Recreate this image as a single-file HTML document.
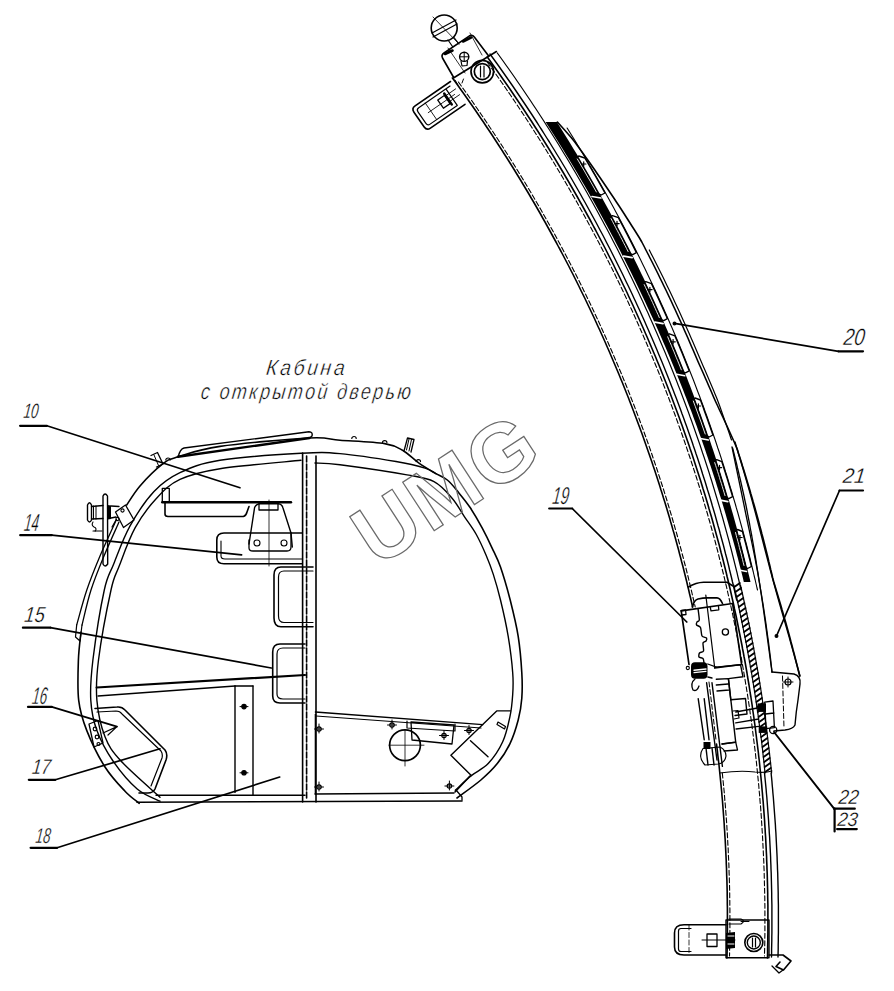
<!DOCTYPE html>
<html><head><meta charset="utf-8"><style>
html,body{margin:0;padding:0;background:#fff;width:894px;height:991px;overflow:hidden}
svg{display:block}
path,circle{fill:none;stroke:#000;stroke-linecap:round;stroke-linejoin:round}
text{font-family:"Liberation Sans",sans-serif;font-style:italic;fill:#000;stroke:#fff;stroke-width:0.5}
.wm{font-style:normal;font-weight:bold;fill:none;stroke:#6a6a6a;stroke-width:1.25}
</style></head><body>
<svg width="894" height="991" viewBox="0 0 894 991">
<path d="M452.4,78 455.4,82 458.3,86 461.1,90 464,94 466.8,98 469.6,102 472.4,106 475.2,110 477.9,114 480.6,118 483.4,122 486,126 488.7,130 491.4,134 494,138 496.6,142 499.2,146 501.8,150 504.3,154 506.9,158 509.4,162 511.9,166 514.4,170 516.8,174 519.3,178 521.7,182 524.1,186 526.5,190 528.9,194 531.2,198 533.6,202 535.9,206 538.2,210 540.5,214 542.7,218 545,222 547.2,226 549.4,230 551.6,234 553.8,238 556,242 558.1,246 560.3,250 562.4,254 564.5,258 566.6,262 568.7,266 570.7,270 572.8,274 574.8,278 576.8,282 578.8,286 580.7,290 582.7,294 584.7,298 586.6,302 588.5,306 590.4,310 592.3,314 594.2,318 596,322 597.8,326 599.7,330 601.5,334 603.3,338 605.1,342 606.8,346 608.6,350 610.3,354 612,358 613.7,362 615.4,366 617.1,370 618.8,374 620.4,378 622.1,382 623.7,386 625.3,390 626.9,394 628.5,398 630,402 631.6,406 633.1,410 634.6,414 636.1,418 637.6,422 639.1,426 640.6,430 642.1,434 643.5,438 644.9,442 646.3,446 647.7,450 649.1,454 650.5,458 651.9,462 653.2,466 654.6,470 655.9,474 657.2,478 658.5,482 659.8,486 661,490 662.3,494 663.5,498 664.8,502 666,506 667.2,510 668.4,514 669.6,518 670.7,522 671.9,526 673,530 674.2,534 675.3,538 676.4,542 677.5,546 678.6,550 679.6,554 680.7,558 681.7,562 682.8,566 683.8,570 684.8,574 685.8,578 686.8,582 687.7,586 688.7,590 689.6,594 690.6,598 691.5,602 692.4,606 692.6,607" stroke-width="1.6"/>
<path d="M716.5,744 717,748 717.5,752 717.9,756 718.4,760 718.9,764 719.3,768 719.7,772 720.1,776 720.5,780 720.9,784 721.3,788 721.7,792 722,796 722.4,800 722.7,804 723,808 723.3,812 723.6,816 723.9,820 724.2,824 724.4,828 724.7,832 724.9,836 725.2,840 725.4,844 725.6,848 725.8,852 726,856 726.2,860 726.3,864 726.5,868 726.6,872 726.7,876 726.9,880 727,884 727.1,888 727.2,892 727.2,896 727.3,900 727.3,904 727.4,908 727.4,912 727.4,916 727.4,920 727.4,924 727.4,928 727.4,932 727.3,936 727.3,940 727.2,944 727.2,948 727.1,952 727,956 726.9,958" stroke-width="1.6"/>
<path d="M458.4,82 461.3,86 464.2,90 467,94 469.9,98 472.7,102 475.4,106 478.2,110 480.9,114 483.7,118 486.4,122 489,126 491.7,130 494.4,134 497,138 499.6,142 502.2,146 504.7,150 507.3,154 509.8,158 512.3,162 514.8,166 517.3,170 519.7,174 522.2,178 524.6,182 527,186 529.4,190 531.8,194 534.1,198 536.4,202 538.8,206 541.1,210 543.3,214 545.6,218 547.8,222 550.1,226 552.3,230 554.5,234 556.7,238 558.8,242 561,246 563.1,250 565.2,254 567.3,258 569.4,262 571.5,266 573.5,270 575.6,274 577.6,278 579.6,282 581.6,286 583.5,290 585.5,294 587.4,298 589.4,302 591.3,306 593.2,310 595,314 596.9,318 598.8,322 600.6,326 602.4,330 604.2,334 606,338 607.8,342 609.5,346 611.3,350 613,354 614.7,358 616.4,362 618.1,366 619.8,370 621.5,374 623.1,378 624.8,382 626.4,386 628,390 629.6,394 631.1,398 632.7,402 634.3,406 635.8,410 637.3,414 638.8,418 640.3,422 641.8,426 643.3,430 644.7,434 646.2,438 647.6,442 649,446 650.4,450 651.8,454 653.1,458 654.5,462 655.9,466 657.2,470 658.5,474 659.8,478 661.1,482 662.4,486 663.7,490 664.9,494 666.2,498 667.4,502 668.6,506 669.8,510 671,514 672.2,518 673.3,522 674.5,526 675.6,530 676.8,534 677.9,538 679,542 680.1,546 681.2,550 682.2,554 683.3,558 684.3,562 685.4,566 686.4,570 687.4,574 688.4,578 689.3,582 690.3,586 691.3,590 692.2,594 693.1,598 694.1,602 695,606 695.2,607" stroke-width="1.1" stroke-dasharray="5 2.5"/>
<path d="M722.3,773 722.7,777 723.1,781 723.5,785 723.9,789 724.3,793 724.6,797 724.9,801 725.3,805 725.6,809 725.9,813 726.2,817 726.5,821 726.8,825 727,829 727.3,833 727.5,837 727.7,841 727.9,845 728.2,849 728.3,853 728.5,857 728.7,861 728.9,865 729,869 729.1,873 729.3,877 729.4,881 729.5,885 729.6,889 729.7,893 729.7,897 729.8,901 729.8,905 729.9,909 729.9,913 729.9,917 729.9,921 729.9,925 729.9,929 729.9,933 729.8,937 729.8,941 729.7,945 729.6,949 729.6,953 729.5,956" stroke-width="1.1" stroke-dasharray="5 2.5"/>
<path d="M487.2,62 490.1,66 492.9,70 495.8,74 498.6,78 501.4,82 504.2,86 506.9,90 509.7,94 512.4,98 515.1,102 517.8,106 520.4,110 523.1,114 525.7,118 528.3,122 530.9,126 533.5,130 536,134 538.6,138 541.1,142 543.6,146 546.1,150 548.5,154 551,158 553.4,162 555.8,166 558.2,170 560.6,174 563,178 565.3,182 567.6,186 569.9,190 572.2,194 574.5,198 576.8,202 579,206 581.2,210 583.4,214 585.6,218 587.8,222 590,226 592.1,230 594.2,234 596.4,238 598.5,242 600.5,246 602.6,250 604.6,254 606.7,258 608.7,262 610.7,266 612.7,270 614.7,274 616.6,278 618.6,282 620.5,286 622.4,290 624.3,294 626.2,298 628.1,302 629.9,306 631.8,310 633.6,314 635.4,318 637.2,322 639,326 640.7,330 642.5,334 644.2,338 646,342 647.7,346 649.4,350 651.1,354 652.7,358 654.4,362 656,366 657.7,370 659.3,374 660.9,378 662.5,382 664,386 665.6,390 667.1,394 668.7,398 670.2,402 671.7,406 673.2,410 674.7,414 676.1,418 677.6,422 679,426 680.5,430 681.9,434 683.3,438 684.7,442 686,446 687.4,450 688.7,454 690.1,458 691.4,462 692.7,466 694,470 695.3,474 696.6,478 697.8,482 699.1,486 700.3,490 701.5,494 702.8,498 703.9,502 705.1,506 706.3,510 707.5,514 708.6,518 709.8,522 710.9,526 712,530 713.1,534 714.2,538 715.3,542 716.3,546 717.4,550 718.4,554 719.4,558 720.4,562 721.4,566 722.4,570 723.4,574 724.4,578 725.3,582 726.3,586 727.2,590 728.1,594 729,598 729.9,602 730.8,606 731.7,610 732.6,614 733.4,618 734.2,622 735.1,626 735.9,630 736.7,634 737.5,638 738.3,642 739,646 739.8,650 740.5,654 741.3,658 742,662 742.7,666 743.4,670 744.1,674 744.8,678 745.4,682 746.1,686 746.7,690 747.4,694 748,698 748.6,702 749.2,706 749.8,710 750.3,714 750.9,718 751.5,722 752,726 752.5,730 753,734 753.5,738 754,742 754.5,746 755,750 755.5,754 755.9,758 756.4,762 756.8,766 757.2,770 757.6,774 758,778 758.4,782 758.8,786 759.1,790 759.5,794 759.8,798 760.1,802 760.5,806 760.8,810 761.1,814 761.4,818 761.6,822 761.9,826 762.1,830 762.4,834 762.6,838 762.8,842 763,846 763.2,850 763.4,854 763.6,858 763.8,862 763.9,866 764.1,870 764.2,874 764.3,878 764.4,882 764.5,886 764.6,890 764.7,894 764.8,898 764.8,902 764.9,906 764.9,910 764.9,914 764.9,918 764.9,922 764.9,926 764.9,930 764.9,934 764.8,938 764.8,942 764.7,946 764.6,950 764.5,954 764.5,956" stroke-width="1.1" stroke-dasharray="5 2.5"/>
<path d="M487.3,57 490.2,61 493,65 495.9,69 498.7,73 501.5,77 504.3,81 507.1,85 509.9,89 512.6,93 515.3,97 518,101 520.7,105 523.4,109 526,113 528.6,117 531.3,121 533.8,125 536.4,129 539,133 541.5,137 544,141 546.5,145 549,149 551.4,153 553.9,157 556.3,161 558.7,165 561.1,169 563.5,173 565.8,177 568.2,181 570.5,185 572.8,189 575.1,193 577.4,197 579.6,201 581.9,205 584.1,209 586.3,213 588.5,217 590.7,221 592.8,225 595,229 597.1,233 599.2,237 601.3,241 603.4,245 605.5,249 607.5,253 609.5,257 611.6,261 613.6,265 615.5,269 617.5,273 619.5,277 621.4,281 623.3,285 625.3,289 627.2,293 629,297 630.9,301 632.8,305 634.6,309 636.4,313 638.2,317 640,321 641.8,325 643.6,329 645.3,333 647.1,337 648.8,341 650.5,345 652.2,349 653.9,353 655.6,357 657.2,361 658.9,365 660.5,369 662.1,373 663.7,377 665.3,381 666.9,385 668.4,389 670,393 671.5,397 673,401 674.5,405 676,409 677.5,413 679,417 680.4,421 681.9,425 683.3,429 684.7,433 686.1,437 687.5,441 688.9,445 690.2,449 691.6,453 692.9,457 694.2,461 695.5,465 696.8,469 698.1,473 699.4,477 700.7,481 701.9,485 703.1,489 704.4,493 705.6,497 706.8,501 708,505 709.1,509 710.3,513 711.5,517 712.6,521 713.7,525 714.8,529 715.9,533 717,537 718.1,541 719.2,545 720.2,549 721.2,553 722.3,557 723.3,561 724.3,565 725.3,569 726.3,573 727.2,577 728.2,581 729.1,585 730.1,589 731,593 731.9,597 732.8,601 733.7,605 734.5,609 735.4,613 736.3,617 737.1,621 737.9,625 738.7,629 739.5,633 740.3,637 741.1,641 741.9,645 742.6,649 743.4,653 744.1,657 744.9,661 745.6,665 746.3,669 747,673 747.6,677 748.3,681 749,685 749.6,689 750.2,693 750.9,697 751.5,701 752.1,705 752.6,709 753.2,713 753.8,717 754.3,721 754.9,725 755.4,729 755.9,733 756.4,737 756.9,741 757.4,745 757.9,749 758.4,753 758.8,757 759.3,761 759.7,765 760.1,769 760.5,773 760.9,777 761.3,781 761.7,785 762,789 762.4,793 762.7,797 763.1,801 763.4,805 763.7,809 764,813 764.3,817 764.6,821 764.8,825 765.1,829 765.3,833 765.6,837 765.8,841 766,845 766.2,849 766.4,853 766.6,857 766.7,861 766.9,865 767,869 767.2,873 767.3,877 767.4,881 767.5,885 767.6,889 767.7,893 767.7,897 767.8,901 767.9,905 767.9,909 767.9,913 767.9,917 767.9,921 767.9,925 767.9,929 767.9,933 767.8,937 767.8,941 767.7,945 767.6,949 767.6,953 767.5,957 767.4,958" stroke-width="1.6"/>
<path d="M490,54 492.9,58 495.8,62 498.7,66 501.5,70 504.3,74 507.1,78 509.9,82 512.7,86 515.4,90 518.1,94 520.8,98 523.5,102 526.2,106 528.8,110 531.5,114 534.1,118 536.7,122 539.2,126 541.8,130 544.3,134 546.8,138 549.4,142 551.8,146 554.3,150 556.7,154 559.2,158 561.6,162 564,166 566.4,170 568.7,174 571.1,178 573.4,182 575.7,186 578,190 580.3,194 582.5,198 584.8,202 587,206 589.2,210 591.4,214 593.6,218 595.8,222 597.9,226 600,230 602.2,234 604.3,238 606.3,242 608.4,246 610.5,250 612.5,254 614.5,258 616.5,262 618.5,266 620.5,270 622.5,274 624.4,278 626.3,282 628.3,286 630.2,290 632.1,294 633.9,298 635.8,302 637.6,306 639.5,310 641.3,314 643.1,318 644.9,322 646.6,326 648.4,330 650.1,334 651.9,338 653.6,342 655.3,346 657,350 658.6,354 660.3,358 662,362 663.6,366 665.2,370 666.8,374 668.4,378 670,382 671.5,386 673.1,390 674.6,394 676.2,398 677.7,402 679.2,406 680.7,410 682.1,414 683.6,418 685,422 686.5,426 687.9,430 689.3,434 690.7,438 692.1,442 693.4,446 694.8,450 696.1,454 697.5,458 698.8,462 700.1,466 701.4,470 702.6,474 703.9,478 705.2,482 706.4,486 707.6,490 708.9,494 710.1,498 711.3,502 712.4,506 713.6,510 714.8,514 715.9,518 717,522 718.1,526 719.3,530 720.3,534 721.4,538 722.5,542 723.6,546 724.6,550 725.6,554 726.7,558 727.7,562 728.7,566 729.6,570 730.6,574 731.6,578 732.5,582 733.5,586 734.4,590 735.3,594 736.2,598 736.7,600" stroke-width="1.4"/>
<path d="M764.5,773 764.9,777 765.3,781 765.7,785 766.1,789 766.4,793 766.8,797 767.1,801 767.4,805 767.7,809 768,813 768.3,817 768.6,821 768.8,825 769.1,829 769.3,833 769.6,837 769.8,841 770,845 770.2,849 770.4,853 770.6,857 770.7,861 770.9,865 771,869 771.2,873 771.3,877 771.4,881 771.5,885 771.6,889 771.7,893 771.7,897 771.8,901 771.9,905 771.9,909 771.9,913 771.9,917 771.9,921 771.9,925 771.9,929 771.9,933 771.8,937 771.8,941 771.7,945 771.6,949 771.6,953 771.5,957" stroke-width="1.4"/>
<path d="M497.3,53 500.2,57 503.1,61 505.9,65 508.8,69 511.6,73 514.4,77 517.1,81 519.9,85 522.6,89 525.3,93 528,97 530.7,101 533.3,105 536,109 538.6,113 541.2,117 543.8,121 546.3,125 548.9,129 551.4,133 553.9,137 556.4,141 558.9,145 561.3,149 563.7,153 566.2,157 568.6,161 571,165 573.3,169 575.7,173 578,177 580.3,181 582.6,185 584.9,189 587.2,193 589.4,197 591.7,201 593.9,205 596.1,209 598.3,213 600.4,217 602.6,221 604.7,225 606.9,229 609,233 611.1,237 613.1,241 615.2,245 617.3,249 619.3,253 621.3,257 623.3,261 625.3,265 627.3,269 629.2,273 631.2,277 633.1,281 635,285 636.9,289 638.8,293 640.6,297 642.5,301 644.3,305 646.1,309 648,313 649.7,317 651.5,321 653.3,325 655,329 656.8,333 658.5,337 660.2,341 661.9,345 663.6,349 665.3,353 666.9,357 668.6,361 670.2,365 671.8,369 673.4,373 675,377 676.6,381 678.1,385 679.7,389 681.2,393 682.7,397 684.2,401 685.7,405 687.2,409 688.7,413 690.1,417 691.6,421 693,425 694.4,429 695.8,433 697.2,437 698.6,441 700,445 701.3,449 702.6,453 704,457 705.3,461 706.6,465 707.9,469 709.2,473 710.4,477 711.7,481 712.9,485 714.1,489 715.3,493 716.5,497 717.7,501 718.9,505 720.1,509 721.2,513 722.4,517 723.5,521 724.6,525 725.7,529 726.8,533 727.9,537 729,541 730,545 731.1,549 732.1,553 733.1,557 734.1,561 735.1,565 736.1,569 737.1,573 738,577 739,581 739.9,585 740.8,589 741.1,590" stroke-width="1.2"/>
<path d="M545.6,122 548.2,126 550.7,130 553.3,134 555.8,138 558.3,142 560.8,146 563.3,150 565.7,154 568.2,158 570.6,162 573,166 575.4,170 577.8,174 580.1,178 582.4,182 584.8,186 587.1,190 589.4,194 591.6,198 593.9,202 596.1,206 598.3,210 600.5,214 602.7,218 604.9,222 607.1,226 609.2,230 611.3,234 613.5,238 615.5,242 617.6,246 619.7,250 621.7,254 623.8,258 625.8,262 627.8,266 629.8,270 631.8,274 633.7,278 635.7,282 637.6,286 639.5,290 641.4,294 643.3,298 645.2,302 647,306 648.9,310 650.7,314 652.6,318 654.4,322 656.2,326 658,330 659.7,334 661.5,338 663.2,342 665,346 666.7,350 668.4,354 670.1,358 671.7,362 673.4,366 675,370 676.7,374 678.3,378 679.9,382 681.5,386 683.1,390 684.6,394 686.2,398 687.7,402 689.2,406 690.8,410 692.3,414 693.7,418 695.2,422 696.7,426 698.1,430 699.5,434 701,438 702.4,442 703.8,446 705.2,450 706.5,454 707.9,458 709.2,462 710.6,466 711.9,470 713.2,474 714.5,478 715.8,482 717,486 718.3,490 719.5,494 720.8,498 722,502 723.2,506 724.4,510 725.6,514 726.7,518 727.9,522 729,526 730.2,530 731.3,534 732.4,538 733.5,542 734.6,546 735.7,550 736.7,554 737.8,558 738.8,562 739.8,566 740.9,570 741.9,574 742.9,578 743.8,582 750.5,582 749.6,578 748.6,574 747.6,570 746.7,566 745.7,562 744.7,558 743.7,554 742.6,550 741.6,546 740.6,542 739.5,538 738.4,534 737.3,530 736.2,526 735.1,522 734,518 732.9,514 731.7,510 730.6,506 729.4,502 728.2,498 727,494 725.8,490 724.6,486 723.4,482 722.1,478 720.9,474 719.6,470 718.3,466 717,462 715.7,458 714.4,454 713.1,450 711.7,446 710.4,442 709,438 707.6,434 706.3,430 704.8,426 703.4,422 702,418 700.6,414 699.1,410 697.6,406 696.1,402 694.6,398 693.1,394 691.6,390 690.1,386 688.5,382 687,378 685.4,374 683.8,370 682.2,366 680.6,362 679,358 677.3,354 675.7,350 674,346 672.3,342 670.6,338 668.9,334 667.2,330 665.4,326 663.7,322 661.9,318 660.1,314 658.3,310 656.5,306 654.7,302 652.9,298 651,294 649.2,290 647.3,286 645.4,282 643.5,278 641.5,274 639.6,270 637.7,266 635.7,262 633.7,258 631.7,254 629.7,250 627.7,246 625.6,242 623.6,238 621.5,234 619.4,230 617.3,226 615.2,222 613,218 610.9,214 608.7,210 606.5,206 604.3,202 602.1,198 599.9,194 597.6,190 595.4,186 593.1,182 590.8,178 588.5,174 586.1,170 583.8,166 581.4,162 579.1,158 576.7,154 574.2,150 571.8,146 569.4,142 566.9,138 564.4,134 561.9,130 559.4,126 556.9,122Z" style="fill:#000;stroke:none"/>
<path d="M567.1,128 569.6,132 572.1,136 574.6,140 577,144 579.4,148 581.8,152 584.2,156 586.6,160 588.9,164 591.3,168 593.6,172 595.9,176 598.2,180 600.5,184 602.7,188 605,192 607.2,196 609.4,200 611.6,204 613.8,208 615.9,212 618.1,216 620.2,220 622.3,224 624.4,228 626.5,232 628.6,236 630.6,240 632.7,244 634.7,248 636.7,252 638.7,256 640.7,260 642.6,264 644.6,268 646.5,272 648.4,276 650.3,280 652.2,284 654.1,288 656,292 657.8,296 659.6,300 661.4,304 663.3,308 665,312 666.8,316 668.6,320 670.3,324 672.1,328 673.8,332 675.5,336 677.2,340 678.9,344 680.5,348 682.2,352 683.8,356 685.4,360 687,364 688.6,368 690.2,372 691.8,376 693.4,380 694.9,384 696.4,388 697.9,392 699.5,396 700.9,400 702.4,404 703.9,408 705.3,412 706.8,416 708.2,420 709.6,424 711,428 712.4,432 713.8,436 715.2,440 716.5,444 717.8,448 719.2,452 720.5,456 721.8,460 723.1,464 724.4,468 725.6,472 726.9,476 728.1,480 729.3,484 730.5,488 731.8,492 732.9,496 734.1,500 735.3,504 736.4,508 737.6,512 738.7,516 739.8,520 740.9,524 742,528 743.1,532 744.2,536 745.2,540 746.3,544 747.3,548 748.3,552 749.4,556 750.4,560 751.3,564 752.3,568 753.3,572 754.2,576 755.2,580 756.1,584 757,588 757.5,590" stroke-width="1.1"/>
<path d="M557.4,122 561,126 564.6,130 568.1,134 571.6,138 574.8,142 577.7,146 580.6,150 583.5,154 586.3,158 589.2,162 592,166 594.8,170 597.5,174 600.3,178 603,182 605.7,186 608.4,190 611.1,194 613.8,198 616.4,202 619.1,206 621.7,210 624.3,214 626.8,218 629.4,222 631.9,226 634.5,230 637,234 639.5,238 641.8,242 643.9,246 645.9,250 648,254 650,258 652.1,262 654.1,266 656.1,270 658.1,274 660,278 662,282 663.9,286 665.9,290 667.8,294 669.7,298 671.6,302 673.4,306 675.3,310 677.1,314 678.9,318 680.8,322 682.6,326 684.3,330 686.1,334 687.9,338 689.6,342 691.3,346 693.1,350 694.8,354 696.5,358 698.2,362 700,366 701.8,370 703.6,374 705.3,378 707.1,382 708.8,386 710.6,390 712.3,394 714,398 715.8,402 717.7,406 719.5,410 721.4,414 723.3,418 725.1,422 727,426 728.8,430 730.6,434 732.4,438 734.2,442 735.9,446 737.5,450 738.7,454 740,458 741.3,462 742.5,466 743.8,470 745,474 746.2,478 747.4,482 748.6,486 749.8,490 750.9,494 752.1,498 753.2,502 754.4,506 755.5,510 756.6,514 757.7,518 758.8,522 759.8,526 760.9,530 761.9,534 763,538 764,542 765,546 766,550 767,554 768,558 768.9,562 769.9,566 770.8,570 771.8,574 772.7,578 773.8,582 775,586 776.2,590 777.4,594 778.6,598 779.8,602 781,606 782.1,610 783.3,614 784.4,618 785.6,622 786.7,626 787.8,630 788.9,634 790,638 791,642 792.1,646 793.1,650 794.2,654 795.2,658 796.2,662 797.2,666 798.2,670 799.2,674 799.7,676" stroke-width="1.6"/>
<path d="M649.3,250 651.3,254 653.4,258 655.4,262 657.4,266 659.4,270 661.4,274 663.4,278 665.3,282 667.2,286 669.2,290 671.1,294 673,298 674.8,302 676.7,306 678.6,310 680.4,314 682.2,318 684,322 685.8,326 687.6,330 689.4,334 691.1,338 692.9,342 694.6,346 696.3,350 698,354 699.7,358 701.4,362 703.1,366 704.9,370 706.6,374 708.3,378 710,382 711.7,386 713.4,390 715,394 716.7,398 718.2,402 719.7,406 721.1,410 722.5,414 723.9,418 725.3,422 726.7,426 728.1,430 729.5,434 730.8,438 731.5,440" stroke-width="1.2"/>
<path d="M732.6,448 733.6,452 734.6,456 735.6,460 736.6,464 737.5,468 738.5,472 739.4,476 740.4,480 741.3,484 742.2,488 743.1,492 744,496 744.8,500 745.7,504 746.5,508 747.3,512 748,516 748.8,520 749.6,524 750.3,528 751,532 751.8,536 752.5,540 753.2,544 753.9,548 754.5,552 755.2,556 755.9,560 756.5,564 757.1,568 757.8,572 758.4,576 759,580 759.7,584 760.3,588 761,592 761.7,596 762.3,600 763,604 763.6,608 764.2,612 764.8,616 765.4,620 766,624 766.5,628 767.1,632 767.6,636 768.2,640 768.7,644 769.2,648 769.7,652 770.2,656 770.7,660 771.1,664 771.6,668 772,672" stroke-width="1.3"/>
<path d="M579.8,158 581.6,161 583.4,164 585.1,167 586.9,170 588.6,173 590.4,176 592.1,179 593.8,182 595.5,185 597.2,188 598.9,191 600,193 604,193 602.9,191 601.2,188 599.5,185 597.8,182 596.1,179 594.4,176 592.7,173 590.9,170 589.2,167 587.4,164 585.7,161 583.9,158Z" style="fill:#fff;stroke:none"/>
<path d="M575.8,157.5 578.7,156 584.8,158 586,160 587.8,163 589.5,166 591.3,169 593,172 594.8,175 596.5,178 598.2,181 599.9,184 601.6,187 603.3,190 603.8,191 605,193 601.2,195 596.6,193.5" stroke-width="1.4"/>
<path d="M577.3,159 579.1,162 580.8,165 582.6,168 584.4,171 586.1,174 587.8,177 589.6,180 591.3,183 593,186 594.7,189 596.4,192" style="fill:none;stroke:#fff;stroke-width:0.9"/>
<path d="M592,196.5 L600.9,198" style="fill:none;stroke:#fff;stroke-width:1.6"/>
<path d="M581.5,164 L585.9,164" stroke-width="1.2"/>
<path d="M583.7,161.8 L583.7,166.2" stroke-width="1.2"/>
<path d="M613.5,217.6 615.1,220.6 616.7,223.6 618.3,226.6 619.8,229.6 621.4,232.6 623,235.6 624.5,238.6 626,241.6 627.6,244.6 629.1,247.6 630.6,250.6 631.6,252.6 635.5,252.6 634.5,250.6 633,247.6 631.5,244.6 630,241.6 628.4,238.6 626.9,235.6 625.3,232.6 623.8,229.6 622.2,226.6 620.6,223.6 619.1,220.6 617.5,217.6Z" style="fill:#fff;stroke:none"/>
<path d="M609.6,217.1 612.5,215.6 618.4,217.6 619.4,219.6 621,222.6 622.6,225.6 624.2,228.6 625.7,231.6 627.3,234.6 628.8,237.6 630.4,240.6 631.9,243.6 633.4,246.6 634.9,249.6 635.4,250.6 636.4,252.6 632.7,254.6 628.3,253.1" stroke-width="1.4"/>
<path d="M611,218.6 612.6,221.6 614.2,224.6 615.7,227.6 617.3,230.6 618.9,233.6 620.4,236.6 622,239.6 623.5,242.6 625.1,245.6 626.6,248.6 628.1,251.6" style="fill:none;stroke:#fff;stroke-width:0.9"/>
<path d="M623.6,256.1 L632.2,257.6" style="fill:none;stroke:#fff;stroke-width:1.6"/>
<path d="M614.8,223.6 L619.2,223.6" stroke-width="1.2"/>
<path d="M617,221.4 L617,225.8" stroke-width="1.2"/>
<path d="M646.7,283.6 648.1,286.6 649.5,289.6 650.9,292.6 652.3,295.6 653.7,298.6 655.1,301.6 656.4,304.6 657.8,307.6 659.2,310.6 660.5,313.6 661.8,316.6 662.7,318.6 666.5,318.6 665.7,316.6 664.3,313.6 663,310.6 661.6,307.6 660.3,304.6 658.9,301.6 657.6,298.6 656.2,295.6 654.8,292.6 653.4,289.6 652,286.6 650.6,283.6Z" style="fill:#fff;stroke:none"/>
<path d="M642.9,283.1 645.8,281.6 651.5,283.6 652.4,285.6 653.8,288.6 655.2,291.6 656.6,294.6 658,297.6 659.4,300.6 660.7,303.6 662.1,306.6 663.4,309.6 664.8,312.6 666.1,315.6 666.5,316.6 667.4,318.6 663.7,320.6 659.4,319.1" stroke-width="1.4"/>
<path d="M644.2,284.6 645.6,287.6 647,290.6 648.4,293.6 649.8,296.6 651.2,299.6 652.6,302.6 653.9,305.6 655.3,308.6 656.6,311.6 658,314.6 659.3,317.6" style="fill:none;stroke:#fff;stroke-width:0.9"/>
<path d="M654.8,322.1 L663.1,323.6" style="fill:none;stroke:#fff;stroke-width:1.6"/>
<path d="M647.7,289.6 L652.1,289.6" stroke-width="1.2"/>
<path d="M649.9,287.4 L649.9,291.8" stroke-width="1.2"/>
<path d="M670.2,335.8 671.5,338.8 672.7,341.8 674,344.8 675.2,347.8 676.5,350.8 677.7,353.8 679,356.8 680.2,359.8 681.4,362.8 682.6,365.8 683.8,368.8 684.6,370.8 688.4,370.8 687.6,368.8 686.4,365.8 685.2,362.8 683.9,359.8 682.7,356.8 681.5,353.8 680.3,350.8 679,347.8 677.8,344.8 676.5,341.8 675.3,338.8 674,335.8Z" style="fill:#fff;stroke:none"/>
<path d="M666.5,335.3 669.4,333.8 674.9,335.8 675.7,337.8 677,340.8 678.2,343.8 679.5,346.8 680.7,349.8 682,352.8 683.2,355.8 684.4,358.8 685.6,361.8 686.8,364.8 688,367.8 688.4,368.8 689.2,370.8 685.4,372.8 681.3,371.3" stroke-width="1.4"/>
<path d="M667.7,336.8 668.9,339.8 670.2,342.8 671.5,345.8 672.7,348.8 674,351.8 675.2,354.8 676.4,357.8 677.7,360.8 678.9,363.8 680.1,366.8 681.3,369.8" style="fill:none;stroke:#fff;stroke-width:0.9"/>
<path d="M676.6,374.3 L684.7,375.8" style="fill:none;stroke:#fff;stroke-width:1.6"/>
<path d="M670.9,341.8 L675.3,341.8" stroke-width="1.2"/>
<path d="M673.1,339.6 L673.1,344" stroke-width="1.2"/>
<path d="M695.8,400 696.9,403 698,406 699.1,409 700.2,412 701.3,415 702.4,418 703.5,421 704.5,424 705.6,427 706.6,430 707.7,433 708.4,435 712.1,435 711.4,433 710.3,430 709.3,427 708.2,424 707.2,421 706.1,418 705,415 704,412 702.9,409 701.8,406 700.7,403 699.6,400Z" style="fill:#fff;stroke:none"/>
<path d="M692.2,399.5 695.1,398 700.4,400 701.2,402 702.3,405 703.4,408 704.4,411 705.5,414 706.6,417 707.7,420 708.7,423 709.8,426 710.8,429 711.9,432 712.2,433 712.9,435 709.1,437 705.2,435.5" stroke-width="1.4"/>
<path d="M693.3,401 694.4,404 695.5,407 696.6,410 697.7,413 698.8,416 699.9,419 701,422 702,425 703.1,428 704.1,431 705.2,434" style="fill:none;stroke:#fff;stroke-width:0.9"/>
<path d="M700.4,438.5 L708.3,440" style="fill:none;stroke:#fff;stroke-width:1.6"/>
<path d="M696.2,406 L700.6,406" stroke-width="1.2"/>
<path d="M698.4,403.8 L698.4,408.2" stroke-width="1.2"/>
<path d="M717.3,461.6 718.2,464.6 719.2,467.6 720.1,470.6 721.1,473.6 722,476.6 723,479.6 723.9,482.6 724.8,485.6 725.7,488.6 726.6,491.6 727.5,494.6 728.1,496.6 731.8,496.6 731.2,494.6 730.3,491.6 729.4,488.6 728.5,485.6 727.5,482.6 726.6,479.6 725.7,476.6 724.8,473.6 723.8,470.6 722.9,467.6 721.9,464.6 720.9,461.6Z" style="fill:#fff;stroke:none"/>
<path d="M713.7,461.1 716.7,459.6 721.8,461.6 722.4,463.6 723.4,466.6 724.3,469.6 725.3,472.6 726.2,475.6 727.2,478.6 728.1,481.6 729,484.6 729.9,487.6 730.8,490.6 731.7,493.6 732,494.6 732.6,496.6 728.8,498.6 724.9,497.1" stroke-width="1.4"/>
<path d="M714.7,462.6 715.7,465.6 716.7,468.6 717.6,471.6 718.6,474.6 719.5,477.6 720.4,480.6 721.4,483.6 722.3,486.6 723.2,489.6 724.1,492.6 725,495.6" style="fill:none;stroke:#fff;stroke-width:0.9"/>
<path d="M720.1,500.1 L727.8,501.6" style="fill:none;stroke:#fff;stroke-width:1.6"/>
<path d="M717.3,467.6 L721.7,467.6" stroke-width="1.2"/>
<path d="M719.5,465.4 L719.5,469.8" stroke-width="1.2"/>
<path d="M738,531.5 738.8,534.5 739.6,537.5 740.4,540.5 741.2,543.5 742,546.5 742.8,549.5 743.5,552.5 744.3,555.5 745,558.5 745.8,561.5 746.5,564.5 747,566.5 750.6,566.5 750.1,564.5 749.4,561.5 748.6,558.5 747.9,555.5 747.1,552.5 746.4,549.5 745.6,546.5 744.8,543.5 744,540.5 743.2,537.5 742.4,534.5 741.6,531.5Z" style="fill:#fff;stroke:none"/>
<path d="M734.6,531 737.5,529.5 742.5,531.5 743,533.5 743.8,536.5 744.6,539.5 745.4,542.5 746.2,545.5 746.9,548.5 747.7,551.5 748.5,554.5 749.2,557.5 750,560.5 750.7,563.5 751,564.5 751.4,566.5 747.6,568.5 743.8,567" stroke-width="1.4"/>
<path d="M735.5,532.5 736.3,535.5 737.1,538.5 737.9,541.5 738.7,544.5 739.4,547.5 740.2,550.5 741,553.5 741.7,556.5 742.5,559.5 743.2,562.5 744,565.5" style="fill:none;stroke:#fff;stroke-width:0.9"/>
<path d="M738.9,570 L746.5,571.5" style="fill:none;stroke:#fff;stroke-width:1.6"/>
<path d="M737.7,537.5 L742.1,537.5" stroke-width="1.2"/>
<path d="M739.9,535.3 L739.9,539.7" stroke-width="1.2"/>
<path d="M453.4,78 L496.4,51.5" stroke-width="1.6"/>
<path d="M453.4,77 L442.5,58 Q441,55 444,53 L469.5,35.8 Q472.5,34.5 474.5,37.2 L488.3,55.5" stroke-width="1.6"/>
<circle cx="464.2" cy="56.8" r="4.6" stroke-width="1.4"/>
<path d="M445,54 L452.5,50.5" stroke-width="2.6"/>
<path d="M463,41.5 L471,37.5" stroke-width="2.6"/>
<path d="M461,61 L462,66 L467,65.5 L467.5,61" stroke-width="1.2"/>
<path d="M459.6,56.8 L468.8,56.8" stroke-width="1"/>
<path d="M464.2,52.2 L464.2,61.4" stroke-width="1"/>
<circle cx="444.2" cy="28" r="13" stroke-width="1.6"/>
<path d="M432,33 L456,20" stroke-width="1.2"/>
<path d="M433,37 L457,24" stroke-width="1.2"/>
<path d="M433,17 L458,43" stroke-width="0.8"/>
<path d="M448,48 L465,73" stroke-width="0.8"/>
<path d="M470,33 L482,55" stroke-width="0.8"/>
<path d="M448,40 L452.5,46.5" stroke-width="1.2"/>
<path d="M454,37.5 L459,44" stroke-width="1.2"/>
<circle cx="482.3" cy="71.6" r="11.3" stroke-width="1.7"/>
<circle cx="482.3" cy="71.6" r="8" stroke-width="1.7"/>
<path d="M480.5,66 L480.5,77" stroke-width="1.2"/>
<path d="M484,66 L484,77" stroke-width="1.2"/>
<g transform="translate(450.5,81.5) rotate(145.4) scale(1,-1)">
<path d="M0,0 L43,0 Q47.5,0 47.5,4.5 L47.5,22.5 Q47.5,27 43,27 L1,27" stroke-width="1.6"/>
<path d="M3,3.5 L41,3.5 Q44,3.5 44,6.5 L44,20.5 Q44,23.5 41,23.5 L8,23.5 L8,3.5" stroke-width="1.2"/>
<path d="M33,3.5 L33,23.5" stroke-width="0.8"/>
<path d="M13,8 L21,8 L21,18 L13,18 Z" stroke-width="1.3"/>
<path d="M12,6.5 L12,19.5" stroke-width="2.6"/>
<path d="M4,13 L36,13" stroke-width="0.8"/>
<path d="M0,9 L12,9" stroke-width="0.8"/>
<path d="M0,16 L12,16" stroke-width="0.8"/>
</g>
<path d="M455,80 L458,85 M462,83 L463.5,79" stroke-width="1" stroke-dasharray="5 2.5"/>
<path d="M732,447C734.2,457.5 740.5,487.8 745,510C749.5,532.2 754.5,553 759,580C763.5,607 769.8,656.7 772,672" stroke-width="1.3"/>
<path d="M735,442C737.8,451.7 745.7,477 752,500C758.3,523 766.7,556.7 773,580C779.3,603.3 785.5,624 790,640C794.5,656 798.3,670 800,676" stroke-width="1.4"/>
<path d="M772,672 L794,674 Q801,676 800,684 L798,700 Q796,712 795,725 Q793,729 785,730 L774,731" stroke-width="1.4"/>
<circle cx="788" cy="682" r="3" stroke-width="1.2"/>
<path d="M783,682 L793,682" stroke-width="1"/>
<path d="M788,677 L788,687" stroke-width="1"/>
<path d="M782.5,676 L784,728" stroke-width="1" stroke-dasharray="5 2.5"/>
<path d="M688.5,587 Q696,582.5 703.6,582.3 L727,582.3 L733,586" stroke-width="1.6"/>
<path d="M692.4,607 Q694,600 698,599 Q703,597.9 707,597.9 L717,597.9 Q720,598 722.5,603.5" stroke-width="1.6"/>
<path d="M681.2,610.8 L732.6,603.5 L741.6,664.5 L714.7,667.8" stroke-width="1.7"/>
<path d="M681.2,610.8 L689,664.5" stroke-width="1.7"/>
<path d="M681.5,610.5 L685.6,610 L686,614.5 L682,615" stroke-width="1.3"/>
<path d="M710.3,607.5 L711,610.8 L718.8,609.8 L718.5,606.5" stroke-width="1.3"/>
<path d="M705.8,595.1 L714.7,667.8" stroke-width="1.2"/>
<path d="M698,608.6C698.2,610.1 699.4,618.2 699.3,620C699.2,621.8 697.4,621.3 697,622C696.6,622.7 696.1,624.3 696.6,625C697.1,625.7 699.8,626 700.5,627.5C701.2,629 701.2,634.6 702,636C702.8,637.4 706,637.3 706.5,638C707,638.7 706.5,640.3 706,641C705.5,641.7 703.3,641.7 703,643C702.7,644.3 704,649.7 703.5,651C703,652.3 700.1,652.2 699.5,653C698.9,653.8 698.5,656.3 699,657C699.5,657.7 702.3,657.7 703,658.5C703.7,659.3 703.9,662.4 704,663" stroke-width="1.4"/>
<circle cx="725.4" cy="632" r="3.1" stroke-width="1.3"/>
<circle cx="687.8" cy="668" r="1.6" stroke-width="1.1"/>
<rect x="691" y="662.3" width="16.5" height="16.5" rx="4" style="fill:#000;stroke:none"/>
<path d="M694,670.2 L706,669" stroke-width="1.4" style="stroke:#fff"/>
<path d="M694,672.6 L706,671.4" stroke-width="1.2" style="stroke:#fff"/>
<path d="M707.8,664 L716.3,667.1 M707.8,677 L712,678" stroke-width="1.3"/>
<path d="M716.3,667.1 L740.5,664.7 L743,676.8 L728.4,678.6 L730.8,699.8" stroke-width="1.4"/>
<path d="M695,679 Q690,683 693,690 Q697,692 699,686" stroke-width="1.3"/>
<path d="M698.2,698.6 L704.2,739.7 M704.2,698.6 L709,739.7 M706.6,682.8 L717,760 M712,682.8 L722.4,766.4" stroke-width="1.4"/>
<path d="M709,682 L716,740" stroke-width="1" stroke-dasharray="5 2.5"/>
<path d="M716.3,679.2 L728.4,678.6 L735.7,742.2 L722,744 M716.3,685 L728,684 M717,691 L729,690" stroke-width="1.4"/>
<path d="M730.8,699.8 L745.5,698.5 L747,714 L735,715.5" stroke-width="1.4"/>
<path d="M733,711 L738,710.5 L739,718 L734,719" stroke-width="1.2"/>
<path d="M735.7,712 L757.5,708 M735.7,722.8 L758.7,719 M736,729 L758.7,726.4" stroke-width="1.3"/>
<rect x="757.5" y="703.4" width="8.5" height="8.5" style="fill:#000;stroke:none"/>
<rect x="758.7" y="726.4" width="8.5" height="6.5" style="fill:#000;stroke:none"/>
<path d="M764.7,702.2 L773,701 L774.4,727.6 L766,728.6 Z M765.5,714 L774,713" stroke-width="1.3"/>
<circle cx="773.2" cy="730" r="3.6" stroke-width="1.3"/>
<path d="M722,744 L735.7,742.2 L737.5,750 L724,751" stroke-width="1.3"/>
<path d="M703,748.5 L720,747 Q726,750 726,756 Q725,763 718,764 L705,765 Q700.6,760 700.6,756 Q701,751 703,748.5 Z" style="fill:none;stroke:#000;stroke-width:1.2"/>
<rect x="703.5" y="742" width="7" height="7" style="fill:#000;stroke:none"/>
<path d="M706,748 L708,765" stroke-width="1.4"/>
<path d="M712,748 L714,765" stroke-width="1.4"/>
<path d="M733.8,585 734.9,590 736.1,595 737.2,600 738.3,605 739.4,610 740.4,615 741.5,620 742.5,625 743.5,630 744.5,635 745.5,640 746.5,645 747.4,650 748.3,655 749.2,660 750.1,665 751,670 751.9,675 752.7,680 753.5,685 754.3,690 755.1,695 755.9,700 756.6,705 757.3,710 758.1,715 758.7,720 759.4,725 760.1,730 760.7,735 761.4,740 762,745 762.6,750 763.1,755 763.7,760 764.2,765 764.7,770 765,773" stroke-width="1.2"/>
<path d="M740.4,585 741.6,590 742.7,595 743.8,600 744.9,605 746,610 747.1,615 748.1,620 749.2,625 750.2,630 751.2,635 752.1,640 753.1,645 754,650 754.9,655 755.8,660 756.7,665 757.6,670 758.5,675 759.3,680 760.1,685 760.9,690 761.7,695 762.4,700 763.2,705 763.9,710 764.6,715 765.3,720 766,725 766.6,730 767.3,735 767.9,740 768.5,745 769.1,750 769.7,755 770.2,760 770.8,765 771.3,770 771.6,773" stroke-width="1.2"/>
<path d="M734.3,587 L739.9,583" stroke-width="1.8"/>
<path d="M735.4,592 L741.1,588" stroke-width="1.8"/>
<path d="M736.6,597 L742.2,593" stroke-width="1.8"/>
<path d="M737.7,602 L743.3,598" stroke-width="1.8"/>
<path d="M738.8,607 L744.4,603" stroke-width="1.8"/>
<path d="M739.9,612 L745.5,608" stroke-width="1.8"/>
<path d="M740.9,617 L746.6,613" stroke-width="1.8"/>
<path d="M742,622 L747.6,618" stroke-width="1.8"/>
<path d="M743,627 L748.7,623" stroke-width="1.8"/>
<path d="M744,632 L749.7,628" stroke-width="1.8"/>
<path d="M745,637 L750.7,633" stroke-width="1.8"/>
<path d="M746,642 L751.6,638" stroke-width="1.8"/>
<path d="M747,647 L752.6,643" stroke-width="1.8"/>
<path d="M747.9,652 L753.5,648" stroke-width="1.8"/>
<path d="M748.8,657 L754.4,653" stroke-width="1.8"/>
<path d="M749.7,662 L755.3,658" stroke-width="1.8"/>
<path d="M750.6,667 L756.2,663" stroke-width="1.8"/>
<path d="M751.5,672 L757.1,668" stroke-width="1.8"/>
<path d="M752.4,677 L758,673" stroke-width="1.8"/>
<path d="M753.2,682 L758.8,678" stroke-width="1.8"/>
<path d="M754,687 L759.6,683" stroke-width="1.8"/>
<path d="M754.8,692 L760.4,688" stroke-width="1.8"/>
<path d="M755.6,697 L761.2,693" stroke-width="1.8"/>
<path d="M756.4,702 L761.9,698" stroke-width="1.8"/>
<path d="M757.1,707 L762.7,703" stroke-width="1.8"/>
<path d="M757.8,712 L763.4,708" stroke-width="1.8"/>
<path d="M758.6,717 L764.1,713" stroke-width="1.8"/>
<path d="M759.2,722 L764.8,718" stroke-width="1.8"/>
<path d="M759.9,727 L765.5,723" stroke-width="1.8"/>
<path d="M760.6,732 L766.1,728" stroke-width="1.8"/>
<path d="M761.2,737 L766.8,733" stroke-width="1.8"/>
<path d="M761.9,742 L767.4,738" stroke-width="1.8"/>
<path d="M762.5,747 L768,743" stroke-width="1.8"/>
<path d="M763.1,752 L768.6,748" stroke-width="1.8"/>
<path d="M763.6,757 L769.2,753" stroke-width="1.8"/>
<path d="M764.2,762 L769.7,758" stroke-width="1.8"/>
<path d="M764.7,767 L770.3,763" stroke-width="1.8"/>
<path d="M765.2,772 L770.8,768" stroke-width="1.8"/>
<path d="M771.1,773 771.5,777 771.9,781 772.2,785 772.6,789 772.9,793 773.3,797 773.6,801 773.9,805 774.2,809 774.5,813 774.8,817 775.1,821 775.4,825 775.6,829 775.9,833 776.1,837 776.3,841 776.5,845 776.7,849 776.9,853 777.1,857 777.2,861 777.4,865 777.5,869 777.7,873 777.8,877 777.9,881 778,885 778.1,889 778.2,893 778.2,897 778.3,901 778.4,905 778.4,909 778.4,913 778.4,917 778.4,921 778.4,925 778.4,929 778.4,933 778.3,937 778.3,941 778.2,945 778.2,949 778.1,953 778,957" stroke-width="1.4"/>
<path d="M719.6,773 Q740,770 755,772 Q765,773 772,771" stroke-width="1.1"/>
<path d="M726,920 L769,920 L769,957.7 L726,957.7 Z" stroke-width="1.4"/>
<path d="M726,924.8 L684,924.8 Q674.5,924.8 674.5,933 L674.5,947 Q674.5,955 684,955 L726,955" stroke-width="1.6"/>
<path d="M691,928.5 L681,928.5 Q678.5,928.5 678.5,931 L678.5,949 Q678.5,951.5 681,951.5 L691,951.5" stroke-width="1.2"/>
<path d="M689,925 L689,955" stroke-width="0.8" stroke-dasharray="5 2.5"/>
<path d="M707,934 L717,934 L717,946.5 L707,946.5 Z" stroke-width="1.3"/>
<path d="M702,940 L735,940" stroke-width="1"/>
<path d="M726,933 L735,932 L735,948 L726,949 Z" style="fill:#000;stroke:none"/>
<path d="M728,936 L734,936" stroke-width="1" style="stroke:#fff"/>
<path d="M728,944 L734,944" stroke-width="1" style="stroke:#fff"/>
<circle cx="753.8" cy="942.5" r="9" stroke-width="1.6"/>
<circle cx="753.8" cy="942.5" r="6.5" stroke-width="1.4"/>
<path d="M752.5,938 L752.5,947" stroke-width="1.2"/>
<path d="M755.5,938 L755.5,947" stroke-width="1.2"/>
<path d="M729,919 L741,919 Q746,921 741,924 L729,924" stroke-width="1.2"/>
<path d="M741,921.5 L749,921.5" stroke-width="1"/>
<path d="M769,955 L783,955 L791,961 L783.5,970 L776,966.5 L780,962" stroke-width="1.6"/>
<path d="M772,966 L779,973 L783,970" stroke-width="1.3"/>
<path d="M126.7,505C128.9,501.8 134.1,492.7 140,485.9C145.9,479.1 156.1,469 162.4,464.1C168.7,459.2 168.4,459.8 178,456.8C187.6,453.9 198.1,449.5 220,446.4C241.9,443.3 289.5,439 309.5,438C329.5,437 327.5,439.3 340,440.2C352.5,441.1 374.3,441.9 384.7,443.6C395.1,445.3 397,447.1 402.6,450.3C408.2,453.5 413.1,458.9 418.3,462.6C423.5,466.3 429.2,469.7 434,472.6C438.8,475.5 443.3,476.8 447.3,480C451.3,483.2 454.4,487.5 458.2,492.1C462,496.7 466.3,501.8 470.3,507.8C474.3,513.9 478.8,521.7 482.4,528.4C486,535.1 489,541.3 492,547.8C495,554.2 497.5,558.4 500.5,567.1C503.5,575.8 507.2,588.5 510.2,600C513.1,611.5 516.3,624.3 518.2,636.4C520.1,648.5 521.2,662.4 521.8,672.7C522.4,683 522.4,690.3 521.8,698.2C521.2,706.1 520.2,712.4 518.2,720C516.2,727.6 513.5,736.3 510,743.6C506.5,750.9 502.2,757.5 497.3,763.6C492.4,769.7 487.6,774.3 480.9,780C474.2,785.7 461,795 457,798" stroke-width="1.6"/>
<path d="M81,632C80.6,636.7 78.8,648.6 78.4,660C78,671.4 77.3,688.6 78.7,700.4C80.1,712.2 82.4,719.5 86.8,730.6C91.2,741.7 98.6,756.9 105,767C111.4,777.1 119.3,785.2 125,791.2C130.7,797.2 136.8,801.3 139.2,803.3" stroke-width="1.6"/>
<path d="M160,801.2C156.2,799.2 145,795.7 137.2,789C129.4,782.3 119.7,770.7 113,761C106.3,751.3 100.6,740.7 96.9,730.6C93.2,720.5 91.5,712.2 90.8,700.4C90.1,688.6 90.7,678.4 92.9,660C95.2,641.6 100.8,606 104.3,590C107.8,574 109.5,574.6 113.7,564C118,553.4 123.1,538.5 129.8,526.4C136.5,514.3 145.6,500.4 154,491.5C162.4,482.6 169,477.9 180,472.7C191,467.5 199.8,463.5 220,460.3C240.2,457.1 281,454.4 301,453.3C321,452.2 324.2,452.2 340,453.6C355.8,455 381.8,459.1 396,461.5C410.2,463.9 418.3,466.1 425,468.2C431.7,470.2 434.3,472.9 436.2,473.8" stroke-width="1.4"/>
<path d="M160,797.2C153.5,791.2 130.2,771.1 121,761C111.8,750.9 109,746.8 105,736.7C101,726.6 98,713.2 96.9,700.4C95.8,687.6 96.2,678.4 98.5,660C100.8,641.6 107.6,605.6 111,590C114.4,574.4 115,577 119,566.6C123,556.2 128.9,539.1 135.2,527.7C141.5,516.3 149.1,506.2 156.6,498.2C164.1,490.1 169.4,484.3 180,479.4C190.6,474.5 199.8,471.9 220,468.7C240.2,465.5 287.5,461.7 301,460.3" stroke-width="1.4"/>
<path d="M315,463C319.2,463.3 324.7,462.8 340,464.8C355.3,466.8 391.3,472.1 407,474.9C422.7,477.7 426.5,477.7 434,481.6C441.5,485.5 447.1,492.4 452.1,498.2C457.1,504 460.2,510.2 464.2,516.3C468.2,522.3 472.7,528 476.3,534.5C479.9,541 483.2,548.4 486,555C488.8,561.6 490.9,566.9 493.3,574.4C495.7,581.9 498,589.7 500.5,600C503,610.3 506.2,624.3 508.2,636.4C510.2,648.5 512,663 512.7,672.7C513.5,682.4 513.2,687.2 512.7,694.5C512.2,701.8 511.7,708.5 510,716.4C508.3,724.3 506.3,733.9 502.7,741.8C499.1,749.7 493.4,758 488.2,763.6C483,769.2 476.8,771.2 471.3,775.6C465.8,780 458,787.8 455.3,790.2" stroke-width="1.4"/>
<path d="M137,802.2 L462,801" stroke-width="1.6"/>
<path d="M156,795.2 L305,795.2" stroke-width="1.4"/>
<path d="M315,794 L454,793" stroke-width="1.4"/>
<path d="M178.2,456.9 Q180,449 184,448 L309,431.8 Q313,432 312,436 L309.5,438" stroke-width="1.4"/>
<path d="M178,456.8 L309.5,438" stroke-width="2.4"/>
<path d="M302.6,453 L302.6,802" stroke-width="1.6"/>
<path d="M306.6,456 L306.6,800" stroke-width="1.6" stroke-dasharray="6 2"/>
<path d="M316,456 L316,802" stroke-width="1.6"/>
<path d="M404,451 L407.5,438 L414,439.5 L411,452" stroke-width="1.3"/>
<path d="M409,439 L406.5,450" stroke-width="1"/>
<path d="M411.5,439.5 L409,451" stroke-width="1"/>
<path d="M151,455.5 L157.5,452.5 L163,464 L156.5,467" stroke-width="1.3"/>
<path d="M154,455 L158.5,465.5" stroke-width="1"/>
<path d="M165.8,460 a2.2,2 0 0 1 4.4,0" stroke-width="1.2"/>
<path d="M351.8,438.5 a2.2,2 0 0 1 4.4,0" stroke-width="1.2"/>
<path d="M382.5,442.6 a2.2,2 0 0 1 4.4,0" stroke-width="1.2"/>
<path d="M416.1,461.6 a2.2,2 0 0 1 4.4,0" stroke-width="1.2"/>
<path d="M116.4,519.7C113.7,525.8 104.9,544.3 100,556C95.1,567.7 90.7,578.5 86.8,590C82.9,601.5 78.4,619.1 76.7,624.9" stroke-width="1.3"/>
<path d="M119,522C116.5,527.7 108.7,544.7 104,556C99.3,567.3 94.7,578.5 91,590C87.3,601.5 83.5,619.2 82,625" stroke-width="1.3"/>
<path d="M76.7,624.9 L75.5,637 L80,641 L82,625" stroke-width="1.2"/>
<path d="M103,496 Q105,492 107.5,496 L107.7,564 Q105,568 103,564 Z" stroke-width="1.4"/>
<path d="M87.5,505 Q89.5,500.5 91.5,505 L91.5,520 Q89.5,524 87.5,520 Z" stroke-width="1.4"/>
<path d="M91.5,506.5 L103,505.5 M91.5,519 L103,518.5" stroke-width="1.3"/>
<path d="M93.5,506 L93.5,519" stroke-width="1"/>
<path d="M96,506 L96,519" stroke-width="1"/>
<path d="M107.7,505 L111,505.5 L111,519 L107.7,519.5 Z" style="fill:#000;stroke:none"/>
<path d="M111,506 L119,506.5 M111,518 L116,517" stroke-width="1.3"/>
<path d="M115.5,512 L125.5,505 L134,520 L123.5,527.5 Z" stroke-width="1.3"/>
<circle cx="122.5" cy="510.5" r="1.6" stroke-width="1.1"/>
<circle cx="117.5" cy="519" r="1.6" stroke-width="1.1"/>
<path d="M93,522 Q91,525 94,527 Q97,528 95.5,531 L93,531" stroke-width="1.1"/>
<path d="M95,531 L102,531" stroke-width="1"/>
<path d="M112,527 L116,520" stroke-width="1.2"/>
<path d="M162.3,502.3 L291,502.3" stroke-width="2.4"/>
<path d="M165,502.3 L165,514 Q165,516.5 168,516.5 L243.4,516.5 Q246,516 247,512 L249,506.5" stroke-width="1.6"/>
<path d="M162.3,488.3 L169.3,488.3 L169.3,502 L162.3,502 Z" stroke-width="1.3"/>
<path d="M249,544 L254.6,507.5 Q256,504 260,503.7 L278.3,503.7 Q282,504 283,508 L291,533 L292.3,547" stroke-width="1.4"/>
<path d="M259,503 L278,503 L278,510 L259,510 Z" stroke-width="1.3"/>
<path d="M269,500 L269,566" stroke-width="0.8"/>
<path d="M216.8,540 Q216.8,533 224,533 L302,533 M216.8,540 L216.8,557 Q216.8,563.8 224,563.8 L302,563.8" stroke-width="1.6"/>
<path d="M221,541 L221,556 Q221,559 225,559 L302,559" stroke-width="1.1"/>
<path d="M249,540 L249,548 Q249,551 253,551 L287,551 Q291,551 291,547 L291,533" stroke-width="1.3"/>
<circle cx="257" cy="543" r="3" stroke-width="1.1"/>
<circle cx="284" cy="543" r="3" stroke-width="1.1"/>
<path d="M313,567 L281,567 Q274,567 274,575 L274,618 Q274,626.7 281,626.7 L313,626.7" stroke-width="1.6"/>
<path d="M313,571 L284,571 Q278.5,571 278.5,577 L278.5,616 Q278.5,622.5 284,622.5 L313,622.5" stroke-width="1.2"/>
<path d="M305,644 L280,644 Q272.7,644 272.7,652 L272.7,696 Q272.7,703 280,703 L305,703" stroke-width="1.6"/>
<path d="M305,648 L283,648 Q277,648 277,654 L277,694 Q277,699 283,699 L305,699" stroke-width="1.2"/>
<path d="M96.6,687.5 L305,675" stroke-width="2.2"/>
<path d="M98,696 L235,686" stroke-width="1.3"/>
<path d="M235,686 L235,792.4 M253,686 L253,795" stroke-width="1.4"/>
<circle cx="244" cy="706.6" r="2.2" stroke-width="1.2" style="fill:#000"/>
<circle cx="244" cy="772.8" r="2.2" stroke-width="1.2" style="fill:#000"/>
<path d="M235,686 L253,686" stroke-width="1.3"/>
<path d="M240,706.6 L248,706.6" stroke-width="1"/>
<path d="M240,772.8 L248,772.8" stroke-width="1"/>
<path d="M95,708.5 L117,707 Q122,706.5 125,710 L165,750 Q168,754 166,760 L155,789 Q153,793 148,793 L139,793" stroke-width="1.6"/>
<path d="M97,712 L116,711 Q120,711 122,714 L161,751 Q163,754 162,758 L151,786" stroke-width="1.2"/>
<path d="M89,724 L98,720.5 L103,743 L94,747 Z" stroke-width="1.3"/>
<circle cx="95" cy="729" r="1.8" stroke-width="1.2"/>
<circle cx="97" cy="737" r="1.8" stroke-width="1.2"/>
<circle cx="98.5" cy="744" r="1.5" stroke-width="1.2"/>
<path d="M103,733 L117,726.6 L108,735" stroke-width="1.2"/>
<path d="M315.4,712 L482.7,724.6" stroke-width="1.4"/>
<path d="M316,716 L481,728" stroke-width="1.2"/>
<path d="M315.4,714.4 L315.4,794" stroke-width="1.4"/>
<path d="M455,792 L470,776" stroke-width="1.6"/>
<circle cx="405" cy="745.2" r="15.4" stroke-width="1.7"/>
<path d="M389,745.2 L424,745.2" stroke-width="0.8"/>
<path d="M405,730 L405,766" stroke-width="0.8"/>
<path d="M411,722 L454,725 L452,744 L412,740 Z" stroke-width="1.3"/>
<path d="M407,721 L407,728 L455,731 L455,724" stroke-width="1.2"/>
<path d="M496.7,710.9 L510.5,710.9 M496.7,710.9 L450.9,755.3 L471.3,775.6 M470.5,740.7 L488,756.7" stroke-width="1.4"/>
<path d="M498,722 L505.5,726.5 L504.5,729 L497,724.5 Z" stroke-width="1.2"/>
<circle cx="449.4" cy="786" r="2.2" stroke-width="1.2"/>
<path d="M444.9,786 L453.9,786" stroke-width="1"/>
<path d="M449.4,781 L449.4,790" stroke-width="1"/>
<circle cx="319" cy="729" r="2.2" stroke-width="1.2"/>
<path d="M314.5,729 L323.5,729" stroke-width="1"/>
<path d="M319,724 L319,733" stroke-width="1"/>
<circle cx="392" cy="725" r="2.2" stroke-width="1.2"/>
<path d="M387.5,725 L396.5,725" stroke-width="1"/>
<path d="M392,720 L392,729" stroke-width="1"/>
<circle cx="444" cy="735.5" r="2.2" stroke-width="1.2"/>
<path d="M439.5,735.5 L448.5,735.5" stroke-width="1"/>
<path d="M444,730.5 L444,739.5" stroke-width="1"/>
<circle cx="469" cy="730.5" r="2.2" stroke-width="1.2"/>
<path d="M464.5,730.5 L473.5,730.5" stroke-width="1"/>
<path d="M469,725.5 L469,734.5" stroke-width="1"/>
<circle cx="319" cy="787" r="2.2" stroke-width="1.2"/>
<path d="M314.5,787 L323.5,787" stroke-width="1"/>
<path d="M319,782 L319,791" stroke-width="1"/>
<path d="M456,790 L462,797 L462,800" stroke-width="1.3"/>
<text transform="translate(22.9,418.4) skewX(-7) scale(0.672,1.043)" x="0" y="0" font-size="20" letter-spacing="0" style="stroke-width:0.3" class="lb">10</text>
<text transform="translate(23.5,530.5) skewX(-7) scale(0.655,1.236)" x="0" y="0" font-size="20" letter-spacing="0" style="stroke-width:0.3" class="lb">14</text>
<text transform="translate(23.8,621.7) skewX(-7) scale(0.913,1.093)" x="0" y="0" font-size="20" letter-spacing="0" style="stroke-width:0.3" class="lb">15</text>
<text transform="translate(31.5,704.0) skewX(-7) scale(0.674,1.193)" x="0" y="0" font-size="20" letter-spacing="0" style="stroke-width:0.3" class="lb">16</text>
<text transform="translate(31.5,773.6) skewX(-7) scale(0.825,1.071)" x="0" y="0" font-size="20" letter-spacing="0" style="stroke-width:0.3" class="lb">17</text>
<text transform="translate(35.0,843.4) skewX(-7) scale(0.667,1.071)" x="0" y="0" font-size="20" letter-spacing="0" style="stroke-width:0.3" class="lb">18</text>
<text transform="translate(551.7,504.0) skewX(-7) scale(0.741,1.214)" x="0" y="0" font-size="20" letter-spacing="0" style="stroke-width:0.3" class="lb">19</text>
<text transform="translate(842.9,345.4) skewX(-7) scale(0.946,1.186)" x="0" y="0" font-size="20" letter-spacing="0" style="stroke-width:0.3" class="lb">20</text>
<text transform="translate(842.3,482.8) skewX(-7) scale(1.0,1.05)" x="0" y="0" font-size="20" letter-spacing="0" style="stroke-width:0.3" class="lb">21</text>
<text transform="translate(838.1,803.8) skewX(-7) scale(0.897,1.022)" x="0" y="0" font-size="20" letter-spacing="0" style="stroke-width:0.3" class="lb">22</text>
<text transform="translate(837.1,826.2) skewX(-7) scale(0.9,0.972)" x="0" y="0" font-size="20" letter-spacing="0" style="stroke-width:0.3" class="lb">23</text>
<text transform="translate(265.4,374.6) skewX(-7) scale(0.881,1.0)" x="0" y="0" font-size="22" letter-spacing="3" style="stroke-width:0.45" class="cap">Кабина</text>
<text transform="translate(200.2,399.2) skewX(-7) scale(0.811,1.006)" x="0" y="0" font-size="22" letter-spacing="3" style="stroke-width:0.45" class="cap">с открытой дверью</text>
<path d="M20.1,425.8 L46.9,425.8" stroke-width="2.2"/>
<path d="M46.9,425.8 L240,487.7" stroke-width="1.7"/>
<path d="M20.2,535.2 L51.7,535.2" stroke-width="2.2"/>
<path d="M51.7,535.2 L241.6,554.8" stroke-width="1.7"/>
<path d="M22.9,627.7 L50.4,627.7" stroke-width="2.2"/>
<path d="M50.4,627.7 L271.3,668" stroke-width="1.7"/>
<path d="M28,706.9 L51.8,706.9" stroke-width="2.2"/>
<path d="M51.8,706.9 L117,726.6" stroke-width="1.7"/>
<path d="M28.8,779.8 L55.3,779.8" stroke-width="2.2"/>
<path d="M55.3,779.8 L160,748.8" stroke-width="1.7"/>
<path d="M30.6,847.8 L57.1,847.8" stroke-width="2.2"/>
<path d="M57.1,847.8 L279.7,777" stroke-width="1.7"/>
<path d="M549.2,508.5 L572.2,508.5" stroke-width="2.2"/>
<path d="M572.2,508.5 L686.8,622" stroke-width="1.7"/>
<path d="M838.4,351.3 L863,351.3" stroke-width="2.2"/>
<path d="M838.4,351.3 L674.5,323.4" stroke-width="1.7"/>
<circle cx="674.5" cy="323.4" r="1.4" stroke-width="1.2" style="fill:#000"/>
<path d="M839.5,490.5 L863,490.5" stroke-width="2.2"/>
<path d="M839.5,490.5 L776.5,636" stroke-width="1.7"/>
<circle cx="776.5" cy="636" r="1.4" stroke-width="1.2" style="fill:#000"/>
<path d="M834.1,808.7 L854.8,808.7" stroke-width="2.2"/>
<path d="M834.6,808.7 L834.6,831.4" stroke-width="2.2"/>
<path d="M837.1,829.1 L856.8,829.1" stroke-width="2.2"/>
<path d="M834.1,808.7 L774,732" stroke-width="1.9"/>
<text x="0" y="0" font-size="84" letter-spacing="2" class="wm" transform="translate(377,568) rotate(-33)">UMG</text>
</svg></body></html>
